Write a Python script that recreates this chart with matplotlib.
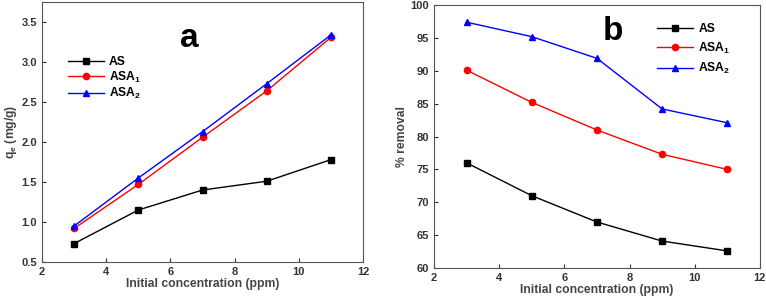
import matplotlib
matplotlib.use("Agg")
import matplotlib.pyplot as plt

plt.rcParams['font.family'] = ['Liberation Sans', 'DejaVu Sans']
plt.rcParams['font.weight'] = 'bold'
plt.rcParams['mathtext.fontset'] = 'custom'
plt.rcParams['mathtext.rm'] = 'Liberation Sans:bold'
plt.rcParams['mathtext.it'] = 'Liberation Sans:bold'
plt.rcParams['mathtext.bf'] = 'Liberation Sans:bold'

conc = [3, 5, 7, 9, 11]
qe_AS = [0.73, 1.15, 1.40, 1.51, 1.78]
qe_ASA1 = [0.92, 1.47, 2.06, 2.64, 3.31]
qe_ASA2 = [0.95, 1.55, 2.13, 2.73, 3.34]
rem_AS = [76.0, 71.0, 67.0, 64.1, 62.6]
rem_ASA1 = [90.1, 85.2, 81.0, 77.3, 75.0]
rem_ASA2 = [97.4, 95.2, 91.9, 84.2, 82.1]
labels = ['AS', 'ASA$_1$', 'ASA$_2$']

fig = plt.figure(figsize=(7.66, 3.01), dpi=100)
ax1 = fig.add_axes([0.0548, 0.1296, 0.4192, 0.8634])
ax2 = fig.add_axes([0.5666, 0.1096, 0.4254, 0.8734])

styles = [('black', 's'), ('red', 'o'), ('blue', '^')]

for ax, series, ylim, yticks, ylabel, panel, ppos in [
    (ax1, [qe_AS, qe_ASA1, qe_ASA2], (0.5, 3.75), [0.5, 1.0, 1.5, 2.0, 2.5, 3.0, 3.5], 'q$_e$ (mg/g)', 'a', (0.46, 0.86)),
    (ax2, [rem_AS, rem_ASA1, rem_ASA2], (60, 100), [60, 65, 70, 75, 80, 85, 90, 95, 100], '% removal', 'b', (0.55, 0.90)),
]:
    for s, (c, m), lab in zip(series, styles, labels):
        ax.plot(conc, s, color=c, marker=m, markersize=4.5, linewidth=1.0, label=lab)
    ax.set_xlim(2, 12)
    ax.set_ylim(*ylim)
    ax.set_xticks([2, 4, 6, 8, 10, 12])
    ax.set_yticks(yticks)
    if panel == 'a':
        ax.set_yticklabels([f'{v:.1f}' for v in yticks])
    ax.tick_params(direction='in', labelsize=8, length=3, width=0.8, colors='#333333', labelcolor='#333333')
    for lbl in ax.get_xticklabels() + ax.get_yticklabels():
        lbl.set_fontweight('bold')
    for sp in ax.spines.values():
        sp.set_color('#555555')
        sp.set_linewidth(0.8)
    ax.set_xlabel('Initial concentration (ppm)', fontsize=8.7, fontweight='bold', color='#444444', labelpad=1)
    ax.set_ylabel(ylabel, fontsize=8.7, fontweight='bold', color='#444444', labelpad=2)
    ax.text(ppos[0], ppos[1], panel, transform=ax.transAxes, fontsize=24, fontweight='bold', ha='center', va='center')

ax1.legend(loc='upper left', bbox_to_anchor=(0.065, 0.81), frameon=False, fontsize=8.7,
           handlelength=3.0, handletextpad=0.4, labelspacing=0.1, borderaxespad=0)
ax2.legend(loc='upper left', bbox_to_anchor=(0.67, 0.95), frameon=False, fontsize=8.7,
           handlelength=3.0, handletextpad=0.4, labelspacing=0.45, borderaxespad=0)

fig.savefig('out.png', dpi=100)
